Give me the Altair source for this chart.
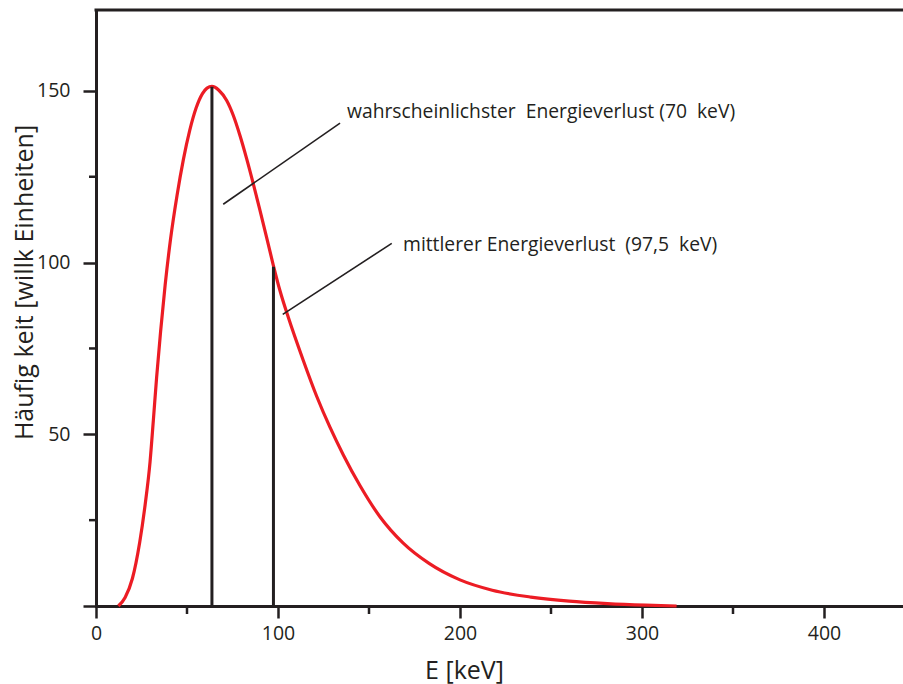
import altair as alt
import pandas as pd

INK = "#231f20"
RED = "#ec1c24"
FONT = "Open Sans"

# Landau-like energy loss distribution
curve_e = [12.3, 16.0, 20.0, 24.0, 27.0, 29.7, 31.5, 33.3, 35.5, 38.0, 41.0, 44.5,
           48.0, 51.5, 55.0, 58.5, 61.0, 63.7, 67.5, 71.8, 75.4, 79.1, 82.8, 86.4,
           90.1, 93.8, 97.4, 101.1, 105.7, 113.9, 121.3, 128.6, 135.9, 145.1, 156.0,
           168.8, 183.0, 200.0, 217.7, 238.9, 260.0, 281.0, 302.0, 319.0]
curve_h = [0.0, 2.5, 8.0, 18.5, 29.5, 42.0, 54.0, 66.5, 80.0, 93.5, 107.0, 119.5,
           130.0, 138.5, 145.0, 149.2, 150.8, 151.3, 150.2, 147.2, 142.9, 137.0, 130.2, 123.0,
           115.2, 107.2, 99.3, 91.8, 84.0, 71.5, 61.0, 52.0, 44.0, 35.0, 26.0,
           18.3, 12.4, 7.6, 4.6, 2.6, 1.4, 0.7, 0.25, 0.0]

# vertical markers (most probable / mean energy loss)
marker_e = [63.7, 97.5]
marker_h = [151.2, 98.8]

# annotation leader lines
leader_x1 = [69.9, 102.6]
leader_y1 = [117.0, 84.9]
leader_x2 = [134.1, 162.5]
leader_y2 = [140.6, 105.6]

# annotation texts
label_text = ["wahrscheinlichster\u00a0 Energieverlust (70\u00a0 keV)",
              "mittlerer Energieverlust\u00a0 (97,5\u00a0 keV)"]
label_x = [137.9, 168.7]
label_y = [143.9, 105.1]

x_major = [0, 100, 200, 300, 400]
x_minor = [50, 150, 250, 350]
y_major = [0, 50, 100, 150]
y_minor = [25, 75, 125]

W, H = 807, 596
xs = alt.Scale(domain=[0, W / 1.82], nice=False, zero=False)
ys = alt.Scale(domain=[0, H / 3.434], nice=False, zero=False)

xaxis = alt.Axis(values=x_major, tickSize=12, tickWidth=2.5, tickColor=INK,
                 domainColor=INK, domainWidth=3, domainCap="square",
                 labelFont=FONT, labelFontSize=19.5, labelColor=INK, labelPadding=6,
                 labelFlush=False, grid=False,
                 title="E [keV]", titleFont=FONT, titleFontSize=25,
                 titleFontWeight="normal", titleColor=INK,
                 titleX=368, titleY=64, titleAlign="center", titleBaseline="middle")
yaxis = alt.Axis(values=y_major, labelExpr="datum.value == 0 ? '' : datum.label",
                 tickSize=13, tickWidth=2.5, tickColor=INK,
                 domainColor=INK, domainWidth=3, domainCap="square",
                 labelFont=FONT, labelFontSize=19.5, labelColor=INK, labelPadding=13,
                 grid=False,
                 title="Häufig keit [willk Einheiten]", titleFont=FONT, titleFontSize=25,
                 titleFontWeight="normal", titleColor=INK, titleAngle=270,
                 titleX=-72, titleY=272, titleAlign="center", titleBaseline="middle")

curve_df = pd.DataFrame({"e": curve_e, "h": curve_h})
marker_df = pd.DataFrame({"e": marker_e, "h": marker_h, "z": [0, 0]})
leader_df = pd.DataFrame({"x1": leader_x1, "y1": leader_y1, "x2": leader_x2, "y2": leader_y2})
label_df = pd.DataFrame({"t": label_text, "x": label_x, "y": label_y})
xminor_df = pd.DataFrame({"e": x_minor})
yminor_df = pd.DataFrame({"h": y_minor})

curve = alt.Chart(curve_df).mark_line(color=RED, strokeWidth=3.2, interpolate="monotone").encode(
    x=alt.X("e:Q", scale=xs, axis=xaxis),
    y=alt.Y("h:Q", scale=ys, axis=yaxis),
)

markers = alt.Chart(marker_df).mark_rule(color=INK, strokeWidth=3).encode(
    x=alt.X("e:Q", scale=xs, axis=xaxis),
    y=alt.Y("z:Q", scale=ys, axis=yaxis),
    y2="h:Q",
)

leaders = alt.Chart(leader_df).mark_rule(color=INK, strokeWidth=1.6).encode(
    x=alt.X("x1:Q", scale=xs, axis=xaxis),
    y=alt.Y("y1:Q", scale=ys, axis=yaxis),
    x2="x2:Q",
    y2="y2:Q",
)

labels = alt.Chart(label_df).mark_text(align="left", baseline="middle", font=FONT,
                                       fontSize=19.3, color=INK).encode(
    x=alt.X("x:Q", scale=xs, axis=xaxis),
    y=alt.Y("y:Q", scale=ys, axis=yaxis),
    text="t:N",
)

xminor = alt.Chart(xminor_df).mark_rule(color=INK, strokeWidth=2.5).encode(
    x=alt.X("e:Q", scale=xs, axis=xaxis),
    y=alt.value(H),
    y2=alt.value(H + 8),
)

yminor = alt.Chart(yminor_df).mark_rule(color=INK, strokeWidth=2.5).encode(
    y=alt.Y("h:Q", scale=ys, axis=yaxis),
    x=alt.value(-7),
    x2=alt.value(0),
)

top = alt.Chart(pd.DataFrame({"a": [0]})).mark_rule(color=INK, strokeWidth=3).encode(
    x=alt.value(-1.5), x2=alt.value(W), y=alt.value(0)
)

chart = alt.layer(curve, markers, leaders, labels, xminor, yminor, top).properties(
    width=W, height=H,
    padding={"left": 96, "top": 10, "right": 0, "bottom": 78},
    autosize=alt.AutoSizeParams(type="none"),
    background="white",
).configure_view(stroke=None)

chart.save("out.html", embed_options={"renderer": "svg", "actions": False})
